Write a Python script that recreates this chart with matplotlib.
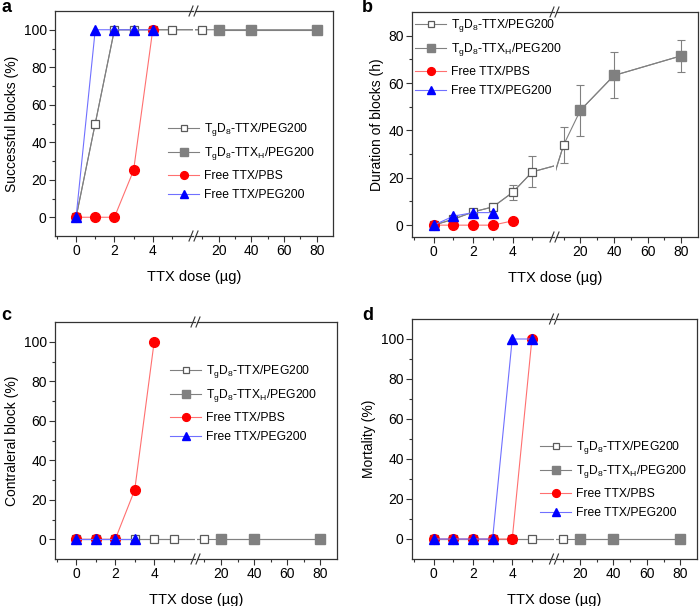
import matplotlib
matplotlib.use('Agg')
import matplotlib.pyplot as plt

plt.rcParams['font.family'] = ['Liberation Sans', 'DejaVu Sans']
plt.rcParams['mathtext.fontset'] = 'custom'
plt.rcParams['mathtext.rm'] = 'Liberation Sans'
plt.rcParams['mathtext.it'] = 'Liberation Sans'

# doses
x_ttx = [0, 1, 2, 3, 4, 5, 10]
x_ttxh = [20, 40, 80]
x_free = [0, 1, 2, 3, 4, 5]

lab_ttx = r'T$_\mathrm{g}$D$_8$-TTX/PEG200'
lab_ttxh = r'T$_\mathrm{g}$D$_8$-TTX$_H$/PEG200'
lab_pbs = 'Free TTX/PBS'
lab_peg = 'Free TTX/PEG200'

# panel a - successful blocks (%)
a_ttx = [0, 50, 100, 100, 100, 100, 100]
a_ttxh = [100, 100, 100]
a_pbs = [0, 0, 0, 25, 100]
a_peg = [0, 100, 100, 100, 100]

# panel b - duration of blocks (h)
b_ttx = [0, 2.5, 5.6, 7.7, 13.8, 22.5, 33.8]
b_ttx_err = [0, 0.4, 0.8, 1.5, 3.0, 6.5, 7.5]
b_ttxh = [48.5, 63.2, 71.5]
b_ttxh_err = [10.7, 9.7, 6.8]
b_pbs = [0, 0, 0, 0, 1.8]
b_peg = [0, 3.8, 5.3, 5.3]

# panel c - contralateral block (%)
c_ttx = [0, 0, 0, 0, 0, 0, 0]
c_ttxh = [0, 0, 0]
c_pbs = [0, 0, 0, 25, 100]
c_peg = [0, 0, 0, 0]

# panel d - mortality (%)
d_ttx = [0, 0, 0, 0, 0, 0, 0]
d_ttxh = [0, 0, 0]
d_pbs = [0, 0, 0, 0, 0, 100]
d_peg = [0, 0, 0, 0, 100, 100]

W, H = 700, 606
fig = plt.figure(figsize=(7, 6.06), dpi=100)

GRAY = '#808080'
FS = 10
LEFT_LIM = (-1.1, 6.1)
RIGHT_LIM = (5.5, 90)


def make_axes(l, t, r, b, split=0.5, gap=2):
    # two axes side by side forming a broken x axis (pixel coords)
    xm = l + (r - l) * split
    ax1 = fig.add_axes([l / W, 1 - b / H, (xm - gap / 2 - l) / W, (b - t) / H])
    ax2 = fig.add_axes([(xm + gap / 2) / W, 1 - b / H, (r - xm - gap / 2) / W, (b - t) / H],
                       sharey=ax1)
    ax1.set_xlim(*LEFT_LIM)
    ax2.set_xlim(*RIGHT_LIM)
    ax1.set_xticks([0, 2, 4])
    ax1.set_xticks([-1, 1, 3, 5], minor=True)
    ax2.set_xticks([20, 40, 60, 80])
    ax2.set_xticks([10, 30, 50, 70], minor=True)
    ax1.spines['right'].set_visible(False)
    ax2.spines['left'].set_visible(False)
    for ax in (ax1, ax2):
        ax.patch.set_visible(False)
        for s in ax.spines.values():
            s.set_linewidth(0.9)
            s.set_color('#333333')
        ax.tick_params(which='both', direction='out', top=False, right=False,
                       labelsize=FS, width=0.8, color='#333333', pad=2)
        ax.tick_params(which='major', length=4)
        ax.tick_params(which='minor', length=2)
    ax2.tick_params(which='both', left=False, labelleft=False)
    # break marks
    for yy in (0, 1):
        for dx in (-3, 2):
            x0 = (xm + dx) / W
            y0 = 1 - (b if yy == 0 else t) / H
            fig.add_artist(plt.Line2D([x0 - 2 / W, x0 + 2 / W], [y0 - 5 / H, y0 + 5 / H],
                                      color='#333333', lw=0.8))
    return ax1, ax2


def inside(xs, lim):
    return [lim[0] <= v <= lim[1] for v in xs]


def draw(axs, ttx, ttxh, pbs, peg, ttx_err=None, ttxh_err=None):
    for ax, lim in zip(axs, (LEFT_LIM, RIGHT_LIM)):
        ax.plot(x_ttx + x_ttxh, ttx + ttxh, '-', color=GRAY, lw=0.8, zorder=2)
        if ttx_err is not None:
            xs = x_ttx + x_ttxh
            ys = ttx + ttxh
            es = ttx_err + ttxh_err
            keep = [i for i, v in enumerate(inside(xs, lim)) if v]
            ax.errorbar([xs[i] for i in keep], [ys[i] for i in keep],
                        yerr=[es[i] for i in keep], fmt='none', ecolor=GRAY,
                        elinewidth=0.8, capsize=3, capthick=0.8, zorder=2)
        ax.plot(x_ttx, ttx, 's-', color=GRAY, lw=0.8, ms=5.5, mfc='white', mec='#5a5a5a',
                mew=0.9, markevery=inside(x_ttx, lim), label=lab_ttx, zorder=3)
        ax.plot(x_ttxh, ttxh, 's-', color=GRAY, lw=0.8, ms=6.5, mfc='#808080', mec='#808080',
                markevery=inside(x_ttxh, lim), label=lab_ttxh, zorder=3)
        xp = x_free[:len(pbs)]
        ax.plot(xp, pbs, 'o-', color='#ff7070', lw=0.8, ms=7, mfc='#ff0000',
                mec='#ff0000', markevery=inside(xp, lim), label=lab_pbs, zorder=4)
        xg = x_free[:len(peg)]
        ax.plot(xg, peg, '^-', color='#7070ff', lw=0.8, ms=7, mfc='#0000ff',
                mec='#0000ff', markevery=inside(xg, lim), label=lab_peg, zorder=5)


def finish(axs, l, r, b, ylabel, letter, lx, ly, leg_xy):
    ax1, ax2 = axs
    ax1.set_ylabel(ylabel, fontsize=FS, labelpad=3)
    fig.text((l + r) / 2 / W, 1 - (b + 41) / H, 'TTX dose (\u00b5g)', fontsize=10.5,
             ha='center', va='center')
    fig.text(lx / W, 1 - ly / H, letter, fontsize=13, fontweight='bold', va='center')
    ax1.set_zorder(5)
    ax1.legend(loc='upper left', bbox_to_anchor=(leg_xy[0] / W, 1 - leg_xy[1] / H),
               bbox_transform=fig.transFigure, frameon=False, fontsize=8.7,
               handlelength=2.6, labelspacing=0.62, borderpad=0, borderaxespad=0,
               handletextpad=0.4, markerscale=0.8)


# panel a
pa = make_axes(55, 11, 333, 236)
draw(pa, a_ttx, a_ttxh, a_pbs, a_peg)
pa[0].set_ylim(-10, 110)
pa[0].set_yticks([0, 20, 40, 60, 80, 100])
pa[0].set_yticks([10, 30, 50, 70, 90], minor=True)
finish(pa, 55, 333, 236, 'Successful blocks (%)', 'a', 1, 8, (168, 121))

# panel b
pb = make_axes(412, 12, 698, 237)
draw(pb, b_ttx, b_ttxh, b_pbs, b_peg, b_ttx_err, b_ttxh_err)
pb[0].set_ylim(-5, 90)
pb[0].set_yticks([0, 20, 40, 60, 80])
pb[0].set_yticks([10, 30, 50, 70], minor=True)
finish(pb, 412, 698, 237, 'Duration of blocks (h)', 'b', 362, 8, (415, 17))

# panel c
pc = make_axes(55, 322, 337, 559)
draw(pc, c_ttx, c_ttxh, c_pbs, c_peg)
pc[0].set_ylim(-10, 110)
pc[0].set_yticks([0, 20, 40, 60, 80, 100])
pc[0].set_yticks([10, 30, 50, 70, 90], minor=True)
finish(pc, 55, 337, 559, 'Contraleral block (%)', 'c', 1, 316, (170, 363))

# panel d
pd_ = make_axes(412, 319, 697, 559)
draw(pd_, d_ttx, d_ttxh, d_pbs, d_peg)
pd_[0].set_ylim(-10, 110)
pd_[0].set_yticks([0, 20, 40, 60, 80, 100])
pd_[0].set_yticks([10, 30, 50, 70, 90], minor=True)
finish(pd_, 412, 697, 559, 'Mortality (%)', 'd', 362, 316, (540, 439))

fig.savefig('out.png', dpi=100)
